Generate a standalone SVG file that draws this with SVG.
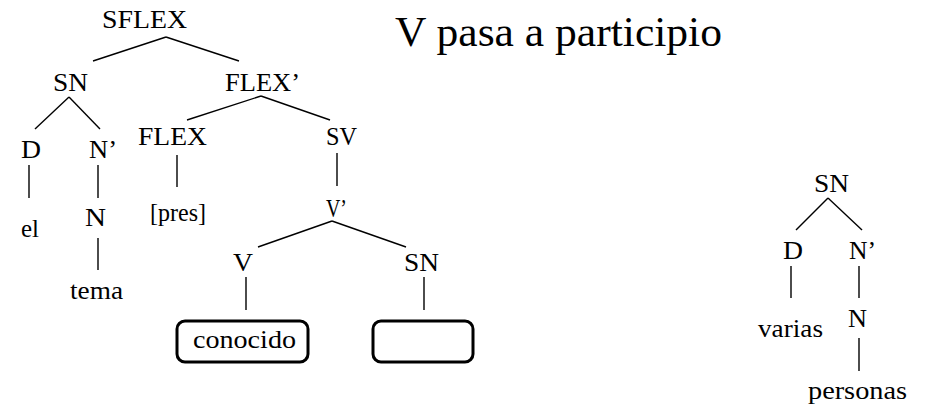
<svg xmlns="http://www.w3.org/2000/svg" width="927" height="409" viewBox="0 0 927 409">
<style>
.lbl{font-size:25px;fill:#000}
.title{font-size:42px}
.edge{stroke:#000;stroke-width:1.4;fill:none}
.box{stroke:#000;stroke-width:3;fill:#fff}
</style>
<rect width="927" height="409" fill="#fff"/>
<g font-family="'Liberation Serif', 'Times New Roman', Tinos, 'DejaVu Serif', serif">
<g id="title"><text class="lbl title" x="395" y="46" textLength="327" lengthAdjust="spacingAndGlyphs">V pasa a participio</text></g>
<g id="connectors">
<line class="edge" x1="166" y1="37" x2="93" y2="61"/>
<line class="edge" x1="166" y1="37" x2="239" y2="61"/>
<line class="edge" x1="69" y1="97" x2="35" y2="129"/>
<line class="edge" x1="69" y1="97" x2="100" y2="129"/>
<line class="edge" x1="29" y1="165" x2="29" y2="198"/>
<line class="edge" x1="98" y1="165" x2="98" y2="198"/>
<line class="edge" x1="98" y1="238" x2="98" y2="270"/>
<line class="edge" x1="261" y1="96" x2="187" y2="120"/>
<line class="edge" x1="261" y1="96" x2="330" y2="120"/>
<line class="edge" x1="177" y1="155" x2="177" y2="187"/>
<line class="edge" x1="337" y1="153" x2="337" y2="186"/>
<line class="edge" x1="332" y1="221" x2="258" y2="247"/>
<line class="edge" x1="332" y1="221" x2="406" y2="247"/>
<line class="edge" x1="246" y1="277" x2="246" y2="310"/>
<line class="edge" x1="424" y1="277" x2="424" y2="310"/>
<line class="edge" x1="828" y1="198" x2="796" y2="230"/>
<line class="edge" x1="828" y1="198" x2="862" y2="230"/>
<line class="edge" x1="791" y1="266" x2="791" y2="298"/>
<line class="edge" x1="859" y1="266" x2="859" y2="298"/>
<line class="edge" x1="859" y1="338" x2="859" y2="371"/>
</g>
<g id="n-sflex"><text class="lbl" x="102" y="28" textLength="85" lengthAdjust="spacingAndGlyphs">SFLEX</text></g>
<g id="n-sn1"><text class="lbl" x="53" y="91" textLength="35" lengthAdjust="spacingAndGlyphs">SN</text></g>
<g id="n-flexbar"><text class="lbl" x="225" y="91" textLength="75" lengthAdjust="spacingAndGlyphs">FLEX’</text></g>
<g id="n-d1"><text class="lbl" x="21" y="158" textLength="20" lengthAdjust="spacingAndGlyphs">D</text></g>
<g id="n-nbar1"><text class="lbl" x="89" y="158" textLength="28" lengthAdjust="spacingAndGlyphs">N’</text></g>
<g id="n-el"><text class="lbl" x="21" y="237" textLength="18" lengthAdjust="spacingAndGlyphs">el</text></g>
<g id="n-n1"><text class="lbl" x="85" y="226" textLength="21" lengthAdjust="spacingAndGlyphs">N</text></g>
<g id="n-tema"><text class="lbl" x="70" y="299" textLength="53" lengthAdjust="spacingAndGlyphs">tema</text></g>
<g id="n-flex"><text class="lbl" x="138" y="145" textLength="69" lengthAdjust="spacingAndGlyphs">FLEX</text></g>
<g id="n-pres"><text class="lbl" x="150" y="221" textLength="56" lengthAdjust="spacingAndGlyphs">[pres]</text></g>
<g id="n-sv"><text class="lbl" x="326" y="145" textLength="31" lengthAdjust="spacingAndGlyphs">SV</text></g>
<g id="n-vbar"><text class="lbl" x="326" y="217" textLength="21" lengthAdjust="spacingAndGlyphs">V’</text></g>
<g id="n-v"><text class="lbl" x="233" y="271" textLength="20" lengthAdjust="spacingAndGlyphs">V</text></g>
<g id="n-sn2"><text class="lbl" x="404" y="271" textLength="35" lengthAdjust="spacingAndGlyphs">SN</text></g>
<g id="n-conocido"><rect class="box" x="177" y="321" width="131" height="41" rx="8"/><text class="lbl" x="193" y="348" textLength="103" lengthAdjust="spacingAndGlyphs">conocido</text></g>
<g id="n-empty"><rect class="box" x="373" y="321" width="100" height="41" rx="8"/></g>
<g id="n-sn3"><text class="lbl" x="814" y="192" textLength="35" lengthAdjust="spacingAndGlyphs">SN</text></g>
<g id="n-d2"><text class="lbl" x="783" y="259" textLength="20" lengthAdjust="spacingAndGlyphs">D</text></g>
<g id="n-nbar2"><text class="lbl" x="849" y="259" textLength="27" lengthAdjust="spacingAndGlyphs">N’</text></g>
<g id="n-varias"><text class="lbl" x="758" y="337" textLength="65" lengthAdjust="spacingAndGlyphs">varias</text></g>
<g id="n-n2"><text class="lbl" x="848" y="327" textLength="19" lengthAdjust="spacingAndGlyphs">N</text></g>
<g id="n-personas"><text class="lbl" x="808" y="399" textLength="99" lengthAdjust="spacingAndGlyphs">personas</text></g>
</g>
</svg>
